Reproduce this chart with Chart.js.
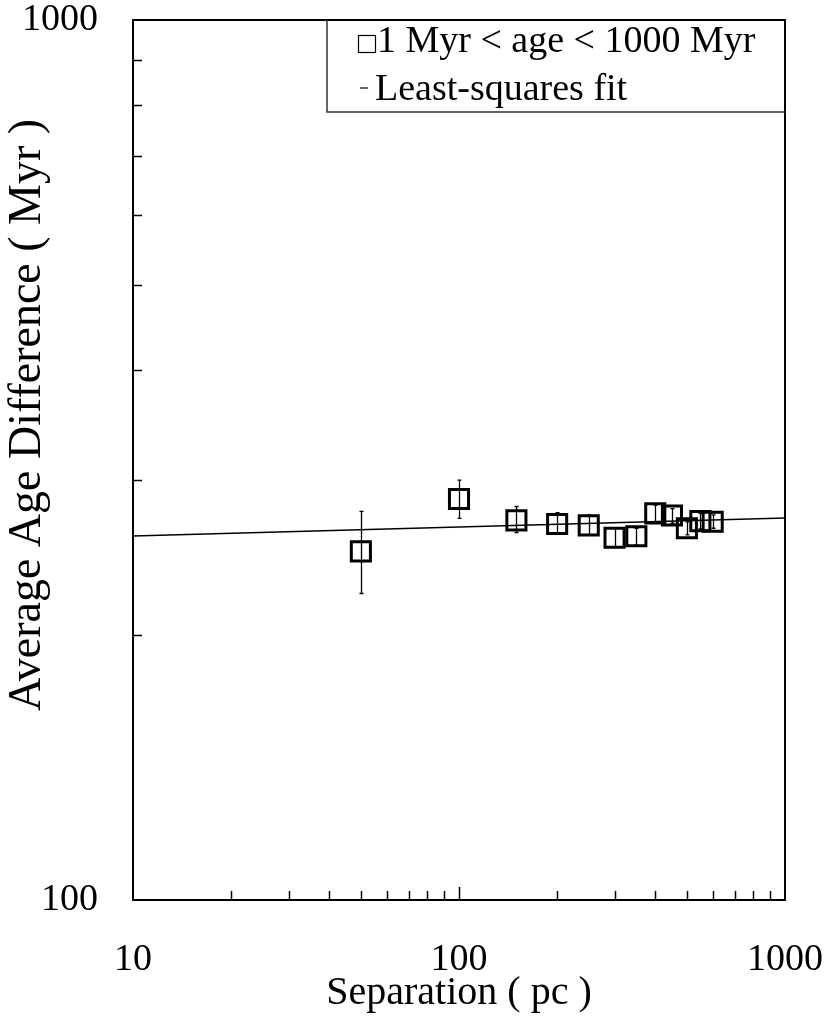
<!DOCTYPE html>
<html>
<head>
<meta charset="utf-8">
<script src="https://cdn.jsdelivr.net/npm/chart.js@4.4.1/dist/chart.umd.min.js"></script>
<style>
  html, body { margin: 0; padding: 0; background: #fff; }
  canvas { display: block; }
</style>
</head>
<body>
<canvas id="ageChart" width="830" height="1018"></canvas>
<script>
const separation = [50, 100, 150, 200, 250, 300, 350, 400, 450, 500, 550, 600];
const ageDiff = [249, 285.5, 270, 267.5, 266.5, 258, 259, 275, 273.5, 264.5, 269.5, 269];
const errLow = [223, 271.5, 261.5, 260.5, 260, 251.5, 253, 269, 268, 260, 264, 264.5];
const errHigh = [276.5, 300, 280, 275.5, 274, 264.5, 264.5, 281, 278.5, 269, 275, 274];
const fitX = [10, 1000];
const fitY = [259.2, 271.7];
const xTickLabels = [10, 100, 1000];
const yTickLabels = [100, 1000];
const xMinorTicks = [20, 30, 40, 50, 60, 70, 80, 90, 200, 300, 400, 500, 600, 700, 800, 900];
const yMinorTicks = [200, 300, 400, 500, 600, 700, 800, 900];
const legendLabels = ["1 Myr < age < 1000 Myr", "Least-squares fit"];

const serif = "'Liberation Serif', 'Times New Roman', serif";

// vertical error bars, drawn under the square markers
const errorBars = {
  id: "errorBars",
  beforeDatasetsDraw(chart) {
    const { ctx, scales: { x, y } } = chart;
    ctx.save();
    ctx.strokeStyle = "#000";
    ctx.lineWidth = 1.3;
    ctx.beginPath();
    separation.forEach((s, i) => {
      const px = Math.round(x.getPixelForValue(s)) + 0.5;
      const top = y.getPixelForValue(errHigh[i]);
      const bot = y.getPixelForValue(errLow[i]);
      ctx.moveTo(px, top);
      ctx.lineTo(px, bot);
      ctx.moveTo(px - 2, top);
      ctx.lineTo(px + 2, top);
      ctx.moveTo(px - 2, bot);
      ctx.lineTo(px + 2, bot);
    });
    ctx.stroke();
    ctx.restore();
  },
};

// box frame, inward ticks, y title and the legend box
const frame = {
  id: "frame",
  afterDraw(chart) {
    const { ctx, chartArea: a, scales: { x, y } } = chart;
    ctx.save();
    ctx.strokeStyle = "#000";
    ctx.lineWidth = 1.5;
    ctx.beginPath();
    xMinorTicks.forEach((v) => {
      const px = Math.round(x.getPixelForValue(v)) + 0.5;
      ctx.moveTo(px, a.bottom);
      ctx.lineTo(px, a.bottom - 9);
    });
    xTickLabels.slice(1, -1).forEach((v) => {
      const px = Math.round(x.getPixelForValue(v)) + 0.5;
      ctx.moveTo(px, a.bottom);
      ctx.lineTo(px, a.bottom - 13);
    });
    yMinorTicks.forEach((v) => {
      const py = Math.round(y.getPixelForValue(v)) + 0.5;
      ctx.moveTo(a.left, py);
      ctx.lineTo(a.left + 9, py);
    });
    ctx.stroke();

    ctx.lineWidth = 2;
    ctx.strokeRect(a.left, a.top, a.right - a.left, a.bottom - a.top);

    // legend
    const lx = a.left + 194;
    const lb = a.top + 92;
    ctx.lineWidth = 1.5;
    ctx.strokeStyle = "#333";
    ctx.beginPath();
    ctx.moveTo(lx, a.top);
    ctx.lineTo(lx, lb);
    ctx.lineTo(a.right, lb);
    ctx.stroke();

    ctx.strokeStyle = "#000";
    ctx.lineWidth = 1.2;
    ctx.strokeRect(lx + 31.5, a.top + 15.5, 17, 17);
    ctx.beginPath();
    ctx.moveTo(lx + 33, a.top + 68);
    ctx.lineTo(lx + 41, a.top + 68);
    ctx.stroke();

    ctx.fillStyle = "#000";
    ctx.font = `38px ${serif}`;
    ctx.textBaseline = "alphabetic";
    ctx.textAlign = "left";
    ctx.fillText(legendLabels[0], lx + 50, a.top + 32);
    ctx.fillText(legendLabels[1], lx + 48, a.top + 80);

    // y axis title
    ctx.translate(40, 415);
    ctx.rotate(-Math.PI / 2);
    ctx.textAlign = "center";
    ctx.font = `46px ${serif}`;
    ctx.fillText("Average Age Difference ( Myr )", 0, 0);
    ctx.restore();
  },
};

new Chart(document.getElementById("ageChart"), {
  type: "scatter",
  data: {
    datasets: [
      {
        label: legendLabels[0],
        data: separation.map((s, i) => ({ x: s, y: ageDiff[i] })),
        pointStyle: "rect",
        pointRadius: 13.5,
        pointHoverRadius: 13.5,
        pointBorderWidth: 3,
        pointBorderColor: "#000",
        pointBackgroundColor: "rgba(0,0,0,0)",
      },
      {
        label: legendLabels[1],
        data: fitX.map((v, i) => ({ x: v, y: fitY[i] })),
        showLine: true,
        borderColor: "#000",
        borderWidth: 1.5,
        pointRadius: 0,
        fill: false,
      },
    ],
  },
  options: {
    responsive: false,
    animation: false,
    events: [],
    layout: { padding: { left: 0, right: 45, top: 20, bottom: 0 }, autoPadding: false },
    plugins: { legend: { display: false }, tooltip: { enabled: false } },
    scales: {
      x: {
        type: "logarithmic",
        min: 10,
        max: 1000,
        grid: { display: false, drawTicks: false },
        border: { display: false },
        afterBuildTicks: (s) => { s.ticks = xTickLabels.map((v) => ({ value: v })); },
        afterFit: (s) => { s.height = 118; s.paddingLeft = 0; s.paddingRight = 0; },
        ticks: {
          font: { family: serif, size: 38 },
          color: "#000",
          padding: 37,
          maxRotation: 0,
          autoSkip: false,
          callback: (v) => String(v),
        },
        title: {
          display: true,
          text: "Separation ( pc )",
          font: { family: serif, size: 40 },
          color: "#000",
          padding: { top: 0, bottom: 1 },
        },
      },
      y: {
        type: "logarithmic",
        min: 100,
        max: 1000,
        grid: { display: false, drawTicks: false },
        border: { display: false },
        afterBuildTicks: (s) => { s.ticks = yTickLabels.map((v) => ({ value: v })); },
        afterFit: (s) => { s.width = 133; s.paddingTop = 0; s.paddingBottom = 0; },
        ticks: {
          font: { family: serif, size: 38 },
          color: "#000",
          padding: 35,
          autoSkip: false,
          callback: (v) => String(v),
        },
      },
    },
  },
  plugins: [errorBars, frame],
});
</script>
</body>
</html>
